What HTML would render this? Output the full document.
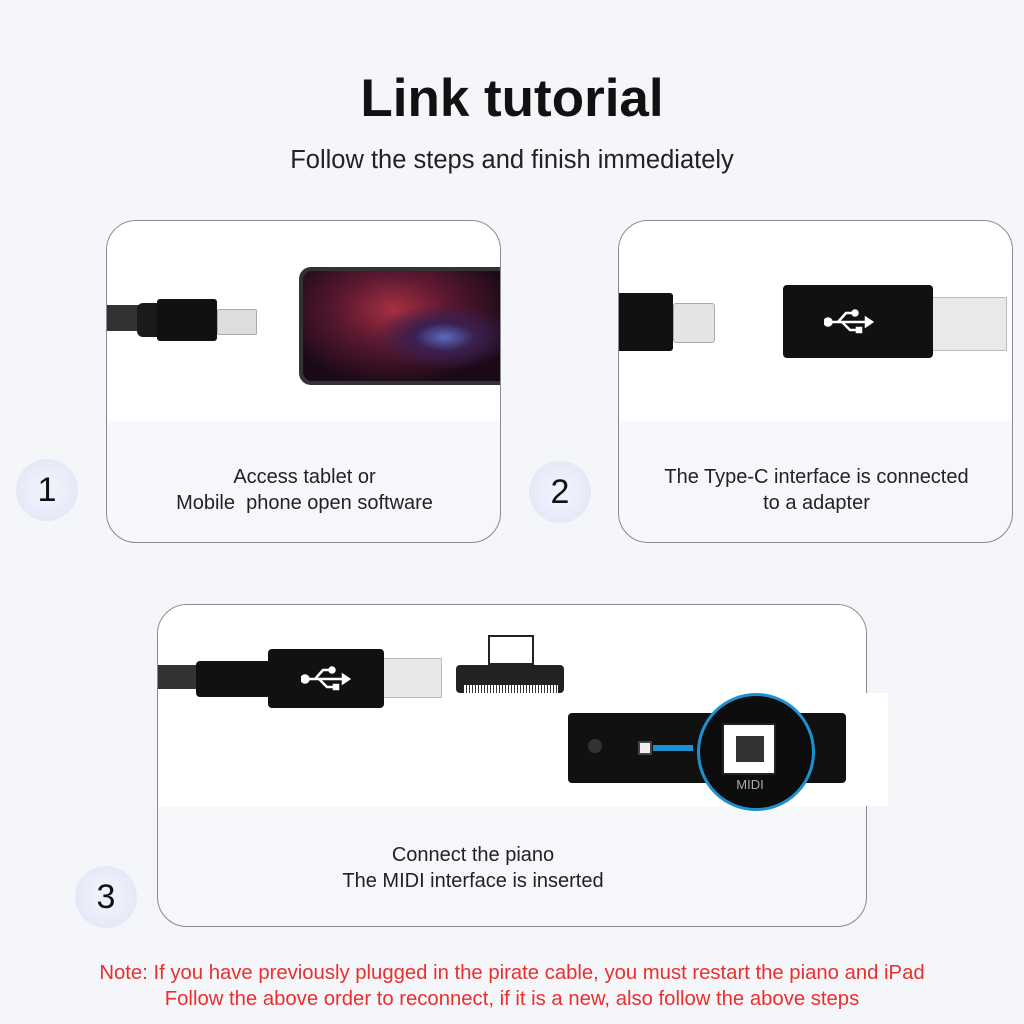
<!DOCTYPE html>
<html><head><meta charset="utf-8"><style>
*{margin:0;padding:0;box-sizing:border-box}
body{width:1024px;height:1024px;background:#f5f6fa;position:relative;overflow:hidden;font-family:"Liberation Sans",sans-serif;color:#222}
.abs{position:absolute}
.card{position:absolute;border:1.5px solid #8a8a8a;border-radius:30px;background:#f5f7fb;overflow:hidden}
.top{position:absolute;left:0;top:0;right:0;background:#fff}
.num{position:absolute;width:62px;height:62px;border-radius:50%;background:radial-gradient(circle,#eef0fb 30%,#dfe2f5 100%);font-size:34px;text-align:center;line-height:62px;color:#111}
.lbl{position:absolute;text-align:center;font-size:20px;line-height:26px;color:#222}
.usb{position:absolute}
</style></head><body>
<div class="abs" style="left:0;width:1024px;top:68px;text-align:center;font-size:53px;font-weight:bold;color:#111">Link tutorial</div>
<div class="abs" style="left:0;width:1024px;top:146px;text-align:center;font-size:25.5px;color:#222">Follow the steps and finish immediately</div>

<div class="card" style="left:106px;top:220px;width:395px;height:323px">
 <div class="top" style="height:200px"></div>
 <div class="abs" style="left:-2px;top:84px;width:40px;height:26px;background:#333"></div>
 <div class="abs" style="left:30px;top:82px;width:30px;height:34px;background:#1a1a1a;border-radius:6px"></div>
 <div class="abs" style="left:50px;top:78px;width:60px;height:42px;background:#111;border-radius:3px"></div>
 <div class="abs" style="left:110px;top:88px;width:40px;height:26px;background:#ddd;border:1px solid #aaa;border-radius:2px"></div>
 <div class="abs" style="left:192px;top:46px;width:210px;height:118px;background:#333;border-radius:12px 0 0 12px;padding:4px">
  <div style="width:100%;height:100%;border-radius:9px 0 0 9px;background:radial-gradient(ellipse at 70% 60%,#5a6cc0 0%,#3a2050 15%,transparent 35%),radial-gradient(ellipse at 45% 35%,#a53040 0%,#5a1830 35%,#1a0a18 75%)"></div>
 </div>
 <div class="lbl" style="left:0;width:395px;top:243px">Access tablet or<br>Mobile&nbsp; phone open software</div>
</div>

<div class="card" style="left:618px;top:220px;width:395px;height:323px">
 <div class="top" style="height:200px"></div>
 <div class="abs" style="left:-2px;top:72px;width:56px;height:58px;background:#111;border-radius:3px"></div>
 <div class="abs" style="left:54px;top:82px;width:42px;height:40px;background:#e4e4e4;border:1px solid #aaa;border-radius:3px"></div>
 <div class="abs" style="left:312px;top:76px;width:76px;height:54px;background:#e9e9e9;border:1px solid #bbb"></div>
 <div class="abs" style="left:164px;top:64px;width:150px;height:73px;background:#111;border-radius:4px"></div>
 <svg class="usb" style="left:205px;top:88px" width="50" height="26" viewBox="0 0 50 26"><g stroke="#fff" stroke-width="2.5" fill="#fff"><line x1="4" y1="13" x2="44" y2="13"/><polyline points="14,13 22,4 30,4" fill="none"/><polyline points="18,13 26,21 34,21" fill="none"/><circle cx="4" cy="13" r="3.5"/><circle cx="31" cy="4" r="2.5"/><rect x="33" y="19" width="4" height="4"/><polygon points="42,9 48,13 42,17"/></g></svg>
 <div class="lbl" style="left:0;width:395px;top:243px">The Type-C interface is connected<br>to a adapter</div>
</div>

<div class="card" style="left:157px;top:604px;width:710px;height:323px">
 <div class="top" style="height:202px"></div>
 <div class="abs" style="left:-2px;top:60px;width:50px;height:24px;background:#333"></div>
 <div class="abs" style="left:38px;top:56px;width:75px;height:36px;background:#111;border-radius:4px"></div>
 <div class="abs" style="left:224px;top:53px;width:60px;height:40px;background:#e8e8e8;border:1px solid #bbb"></div>
 <div class="abs" style="left:110px;top:44px;width:116px;height:59px;background:#111;border-radius:4px"></div>
 <svg class="usb" style="left:143px;top:61px" width="50" height="26" viewBox="0 0 50 26"><g stroke="#fff" stroke-width="2.5" fill="#fff"><line x1="4" y1="13" x2="44" y2="13"/><polyline points="14,13 22,4 30,4" fill="none"/><polyline points="18,13 26,21 34,21" fill="none"/><circle cx="4" cy="13" r="3.5"/><circle cx="31" cy="4" r="2.5"/><rect x="33" y="19" width="4" height="4"/><polygon points="42,9 48,13 42,17"/></g></svg>
 <div class="abs" style="left:298px;top:60px;width:108px;height:28px;background:#222;border-radius:4px"></div>
 <div class="abs" style="left:306px;top:80px;width:94px;height:8px;background:repeating-linear-gradient(90deg,#fff 0 2px,#333 2px 3px)"></div>
 <div class="abs" style="left:330px;top:30px;width:46px;height:30px;border:2px solid #222"></div>
 <div class="abs" style="left:410px;top:108px;width:278px;height:70px;background:#111;border-radius:4px"></div>
 <div class="abs" style="left:430px;top:134px;width:14px;height:14px;background:#333;border-radius:50%"></div>
 <div class="abs" style="left:480px;top:136px;width:14px;height:14px;background:#eee;border:2px solid #444"></div>
 <div class="abs" style="left:495px;top:140px;width:40px;height:6px;background:#1e90d0"></div>
 <div class="abs" style="left:539px;top:88px;width:118px;height:118px;border-radius:50%;background:#0d0d0d;border:3px solid #1e90d0"></div>
 <div class="abs" style="left:566px;top:120px;width:50px;height:48px;background:#fff;border:8px solid #fff;outline:2px solid #222"></div>
 <div class="abs" style="left:578px;top:131px;width:28px;height:26px;background:#333"></div>
 <div class="abs" style="left:572px;top:172px;width:40px;color:#aaa;font-size:13px;text-align:center">MIDI</div>
 <div class="lbl" style="left:0;width:630px;top:237px">Connect the piano<br>The MIDI interface is inserted</div>
</div>
<div class="abs" style="left:866px;top:693px;width:22px;height:113px;background:#fff"></div>

<div class="num" style="left:16px;top:459px">1</div>
<div class="num" style="left:529px;top:461px">2</div>
<div class="num" style="left:75px;top:866px">3</div>

<div class="abs" style="left:0;width:1024px;top:960px;text-align:center;font-size:20.3px;line-height:26px;color:#e8302e">Note: If you have previously plugged in the pirate cable, you must restart the piano and iPad<br>Follow the above order to reconnect, if it is a new, also follow the above steps</div>
</body></html>
